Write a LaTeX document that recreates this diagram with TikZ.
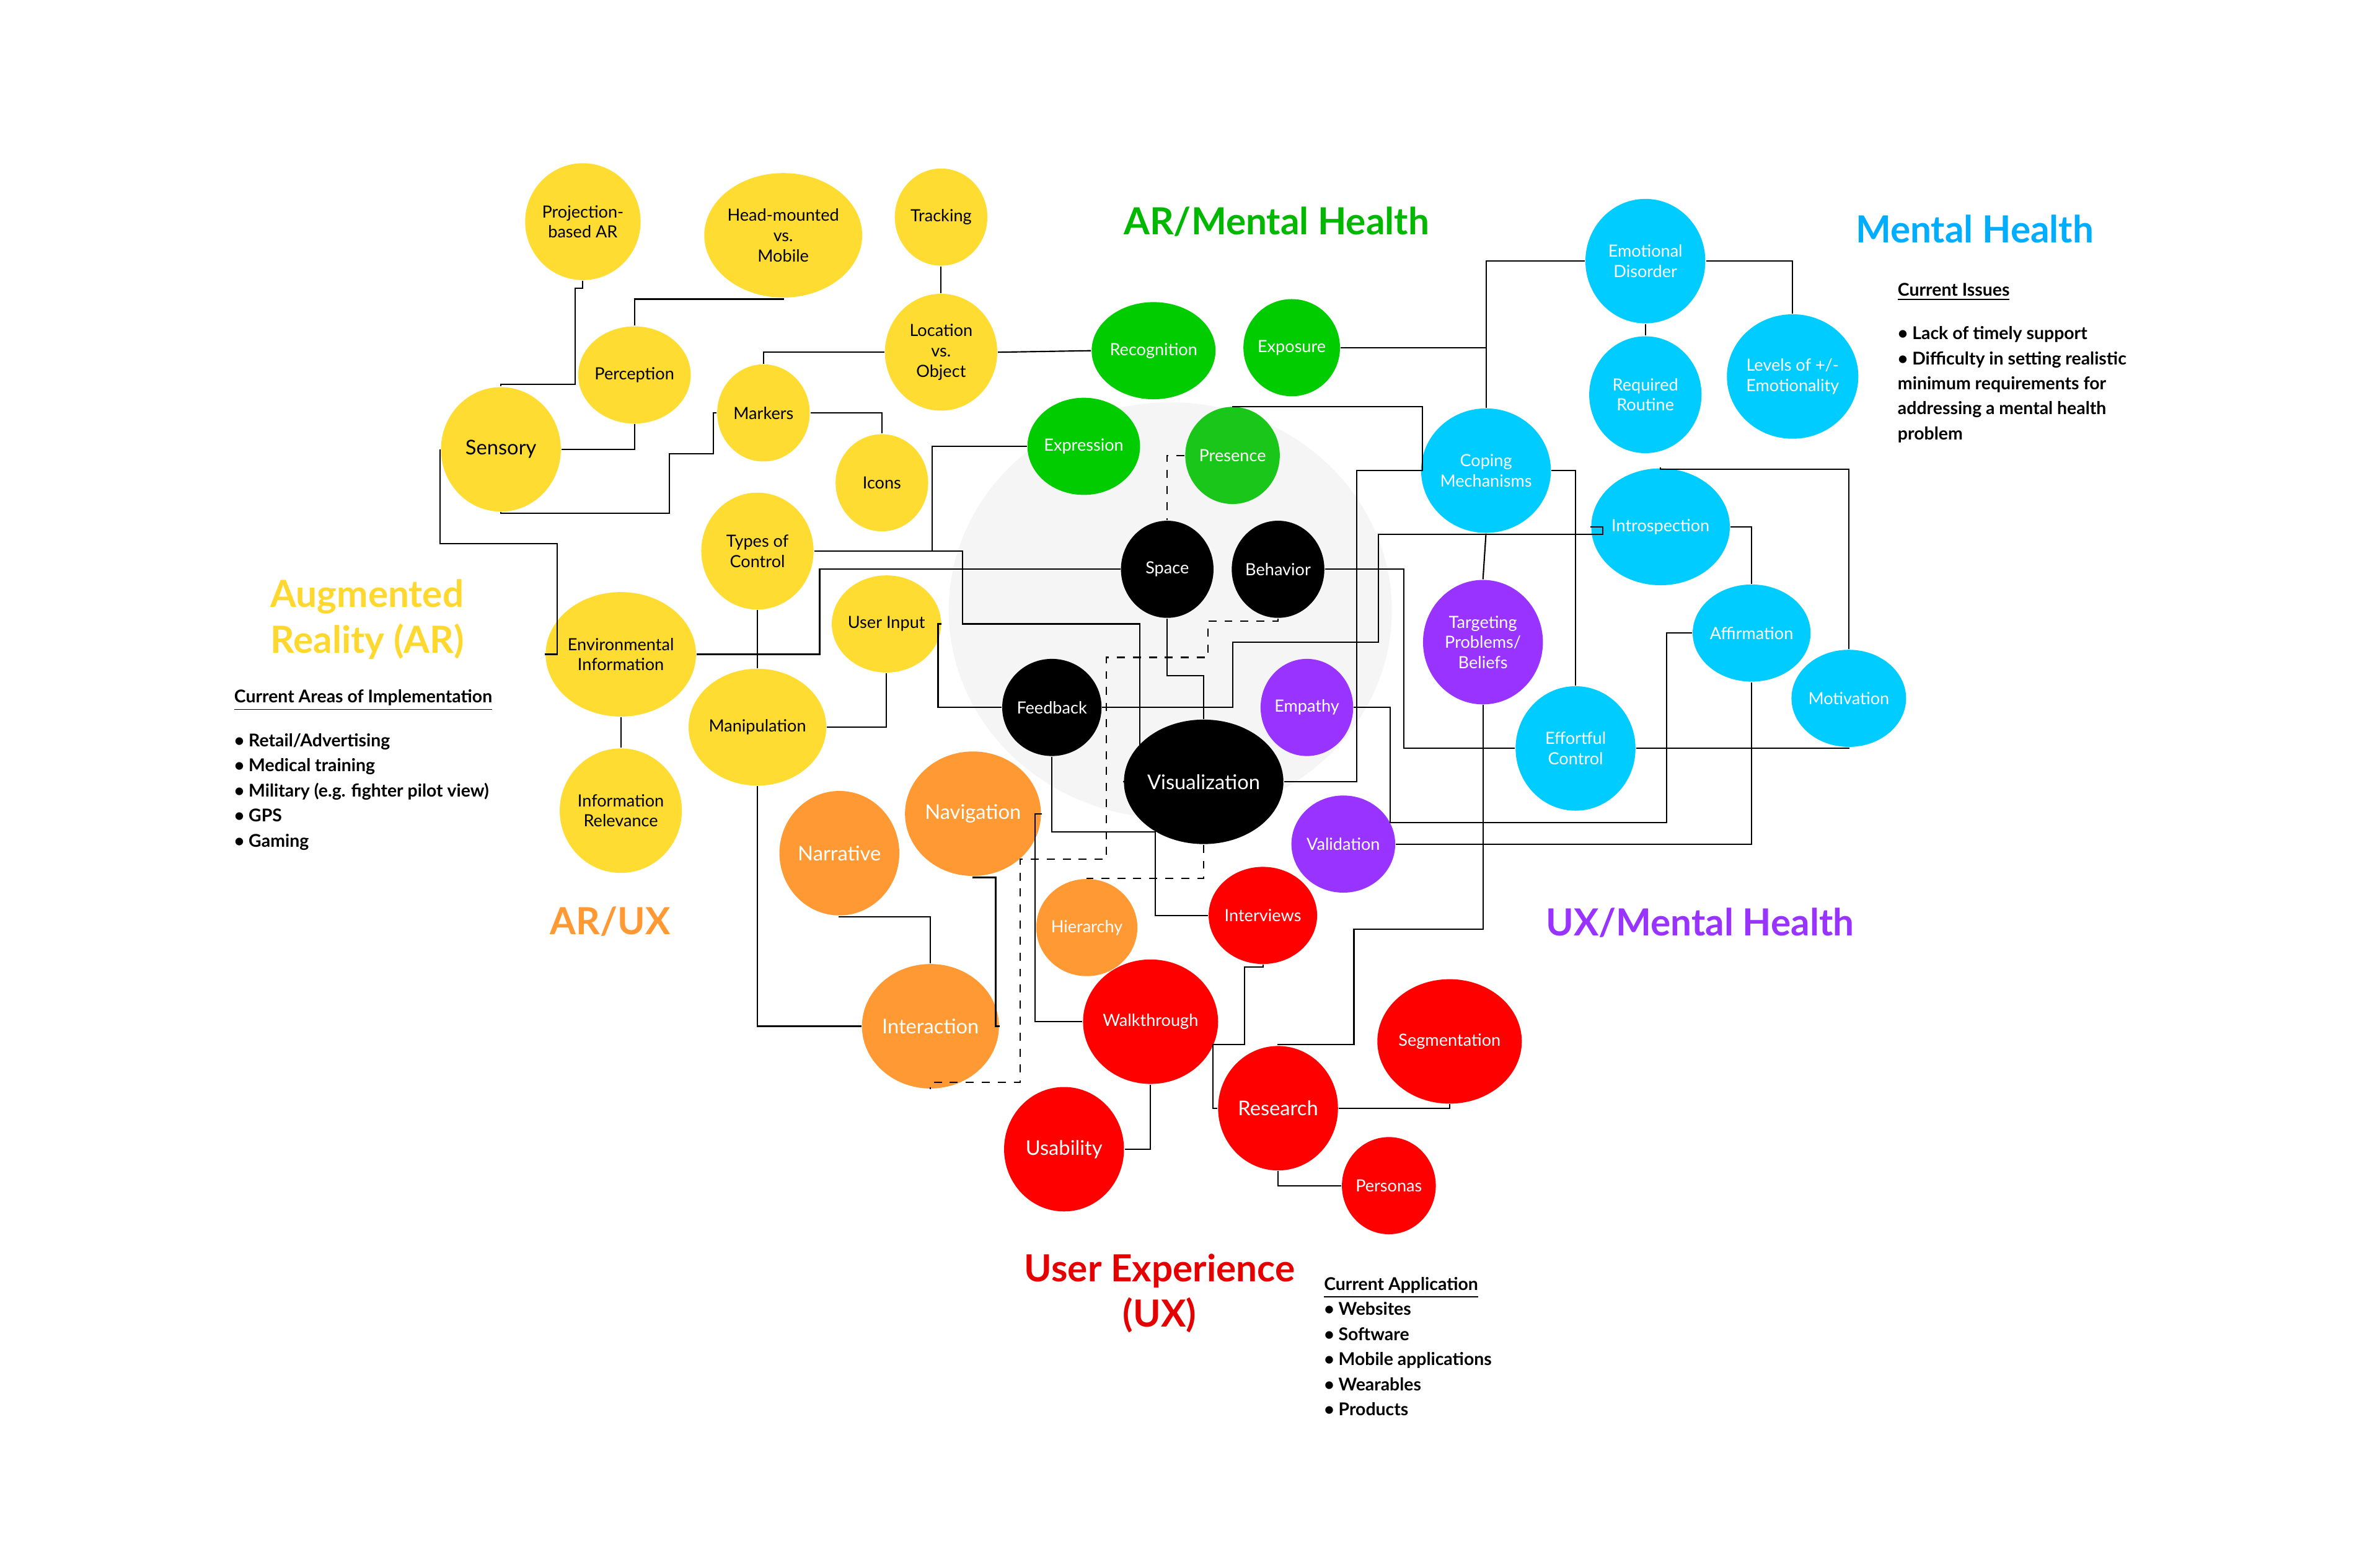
\documentclass[tikz,border=0pt]{standalone}
\usepackage{fontspec}
\setmainfont{Lato}
\usetikzlibrary{shapes.geometric, positioning}

\definecolor{arYellow}{HTML}{FEDC32}
\definecolor{mhGreen}{HTML}{00CC00}
\definecolor{mhCyan}{HTML}{00CCFF}
\definecolor{uxPurple}{HTML}{9933FF}
\definecolor{uxOrange}{HTML}{FF9933}
\definecolor{uxRed}{HTML}{FF0000}

\tikzset{
  bubble/.style={ellipse, inner sep=0pt, align=center, font=\fontsize{6.3}{7.6}\selectfont},
  sm/.style={bubble, minimum width=1.22cm, minimum height=1.28cm},
  md/.style={bubble, minimum width=1.48cm, minimum height=1.54cm},
  lg/.style={bubble, minimum width=1.58cm, minimum height=1.64cm},
  yel/.style={fill=arYellow, text=black},
  grn/.style={fill=mhGreen, text=white},
  blk/.style={fill=black, text=white},
  pur/.style={fill=uxPurple, text=white},
  cyn/.style={fill=mhCyan, text=white},
  org/.style={fill=uxOrange, text=white},
  rd/.style={fill=uxRed, text=white},
  big/.style={font=\fontsize{7.6}{9}\selectfont},
  heading/.style={font=\bfseries\fontsize{14}{17}\selectfont, align=center},
  notes/.style={anchor=north west, align=left, font=\bfseries\fontsize{6.6}{9.4}\selectfont},
  link/.style={line width=0.5pt}
}

\begin{document}
\begin{tikzpicture}[x=0.02cm, y=-0.02cm, link]
    % frame
    \useasboundingbox (0,0) rectangle (1568,1018);

    % grey centre disc
    \fill[black!4] (771,402) ellipse [x radius=2.92cm, y radius=2.74cm];

    % Augmented Reality
    \node[md, yel]  (proj)  at (384,146) {Projection-\\based AR};
    \node[lg, yel]  (head)  at (516,155) {Head-mounted\\vs.\\Mobile};
    \node[sm, yel]  (track) at (620,143) {Tracking};
    \node[sm, yel]  (perc)  at (418,247) {Perception};
    \node[md, yel]  (loc)   at (620,232) {Location\\vs.\\Object};
    \node[lg, yel, big] (sens) at (330,296) {Sensory};
    \node[sm, yel]  (mark)  at (503,272) {Markers};
    \node[sm, yel]  (icons) at (581,318) {Icons};
    \node[md, yel]  (types) at (499,363) {Types of\\Control};
    \node[sm, yel]  (uin)   at (584,411) {User Input};
    \node[lg, yel]  (env)   at (409,431) {Environmental\\Information};
    \node[md, yel]  (manip) at (499,479) {Manipulation};
    \node[lg, yel]  (rel)   at (409,534) {Information\\Relevance};

    % AR / Mental Health
    \node[sm, grn]  (recog) at (760,231) {Recognition};
    \node[sm, grn]  (expo)  at (851,229) {Exposure};
    \node[sm, grn]  (expr)  at (714,294) {Expression};
    \node[sm, fill=green!75!black!90, text=white] (pres) at (812,300) {Presence};

    % centre
    \node[sm, blk]  (space) at (769,375) {Space};
    \node[sm, blk]  (beh)   at (842,375) {Behavior};
    \node[sm, blk]  (feed)  at (693,466) {Feedback};
    \node[lg, blk, big] (vis) at (793,515) {Visualization};

    % UX / Mental Health
    \node[sm, pur]  (emp)   at (861,466) {Empathy};
    \node[sm, pur]  (val)   at (885,556) {Validation};
    \node[lg, pur]  (targ)  at (977,423) {Targeting\\Problems/\\Beliefs};

    % Mental Health
    \node[lg, cyn]  (ed)     at (1084,172) {Emotional\\Disorder};
    \node[md, cyn]  (rr)     at (1084,260) {Required\\Routine};
    \node[lg, cyn]  (lev)    at (1181,248) {Levels of +/-\\Emotionality};
    \node[lg, cyn]  (coping) at (979,310) {Coping\\Mechanisms};
    \node[md, cyn]  (intro)  at (1094,347) {Introspection};
    \node[sm, cyn]  (aff)    at (1154,417) {Affirmation};
    \node[sm, cyn]  (mot)    at (1218,460) {Motivation};
    \node[lg, cyn]  (eff)    at (1038,493) {Effortful\\Control};

    % AR / UX
    \node[lg, org, big] (narr)  at (553,562) {Narrative};
    \node[lg, org, big] (nav)   at (641,536) {Navigation};
    \node[sm, org]      (hier)  at (716,611) {Hierarchy};
    \node[lg, org, big] (inter) at (613,676) {Interaction};

    % User Experience
    \node[sm, rd]       (intv) at (832,603) {Interviews};
    \node[lg, rd]       (walk) at (758,673) {Walkthrough};
    \node[lg, rd, big]  (res)  at (842,730) {Research};
    \node[lg, rd]       (seg)  at (955,686) {Segmentation};
    \node[lg, rd, big]  (usab) at (701,757) {Usability};
    \node[sm, rd]       (pers) at (915,781) {Personas};

    % connectors, AR side
    \draw (proj.south) |- (379,190) -- (379,253) -| (sens.north);
    \draw (head.south) |- (418,197) -- (perc.north);
    \draw (perc.south) |- (sens.east);
    \draw (sens.south) |- (441,338) |- (470,299) |- (mark.west);
    \draw (mark.north) |- (loc.west);
    \draw (track.south) -- (loc.north);
    \draw (loc.east) -- (recog.west);
    \draw (mark.east) -| (icons.north);
    \draw (sens.west) |- (367,358) |- (env.west);
    \draw (types.east) -| (614,300) |- (expr.west);
    \draw (types.east) -- (634,363) |- (751,411) |- (vis.west);
    \draw (env.east) -| (540,375) |- (space.west);
    \draw (types.south) -- (manip.north);
    \draw (manip.east) -| (uin.south);
    \draw (uin.east) -- (618,411) |- (feed.west);
    \draw (env.south) -- (rel.north);
    \draw (manip.south) |- (inter.west);

    % connectors, centre and mental health
    \draw[dashed] (pres.west) -| (space.north);
    \draw (pres.north) |- (937,268) |- (coping.west);
    \draw (ed.west) -| (coping.north);
    \draw (expo.east) -- (979,229);
    \draw (ed.east) -| (lev.north);
    \draw (ed.south) -- (rr.north);
    \draw (space.south) |- (793,445) -- (vis.north);
    \draw[dashed] (beh.south) |- (796,409) |- (729,433) |- (672,566) |- (613,713) -- (inter.south);
    \draw[dashed] (vis.south) |- (hier.north);
    \draw (beh.east) -- (925,375) |- (eff.west);
    \draw (feed.east) -| (812,423) -| (908,352) -- (1056,352) |- (intro.west);
    \draw (feed.south) |- (761,548) |- (intv.west);
    \draw (vis.east) -| (894,310) -- (coping.west);
    \draw (coping.south) -- (targ.north);
    \draw (coping.east) -| (eff.north);
    \draw (emp.east) -| (916,542) -| (1098,417) -- (aff.west);
    \draw (val.east) -| (aff.south);
    \draw (intro.east) -| (aff.north);
    \draw (intro.north) |- (1218,309) -- (mot.north);
    \draw (eff.east) -| (mot.south);

    % connectors, UX side
    \draw (targ.south) -- (977,612) -| (892,688) -| (res.north);
    \draw (intv.south) |- (820,637) |- (799,688) |- (res.west);
    \draw (res.east) -| (seg.south);
    \draw (res.south) |- (pers.west);
    \draw (walk.south) |- (usab.east);
    \draw (nav.east) -| (682,673) -- (walk.west);
    \draw (nav.south) |- (656,578) |- (inter.east);
    \draw (narr.south) |- (613,604) -- (inter.north);

    % headings
    \node[heading, text=arYellow!95!orange, align=left, anchor=west] (tAR) at (172,408) {Augmented\\Reality (AR)};
    \node[heading, text=uxOrange] (tARUX) at (402,607) {AR/UX};
    \node[heading, text=mhGreen!90!black] (tARMH) at (841,146) {AR/Mental Health};
    \node[heading, text=mhCyan!85!blue] (tMH) at (1301,151) {Mental Health};
    \node[heading, text=uxPurple] (tUXMH) at (1120,608) {UX/Mental Health};
    \node[heading, text=uxRed!90!black] (tUX) at (764,852) {User Experience\\(UX)};

    % notes
    \node[notes] (nAR) at (148,448) {\underline{Current Areas of Implementation}\\[7pt]
      • Retail/Advertising\\• Medical training\\• Military (e.g. fighter pilot view)\\• GPS\\• Gaming};
    \node[notes] (nMH) at (1244,180) {\underline{Current Issues}\\[7pt]
      • Lack of timely support\\• Difficulty in setting realistic\\minimum requirements for\\addressing a mental health\\problem};
    \node[notes] (nUX) at (866,835) {\underline{Current Application}\\
      • Websites\\• Software\\• Mobile applications\\• Wearables\\• Products};
\end{tikzpicture}
\end{document}
